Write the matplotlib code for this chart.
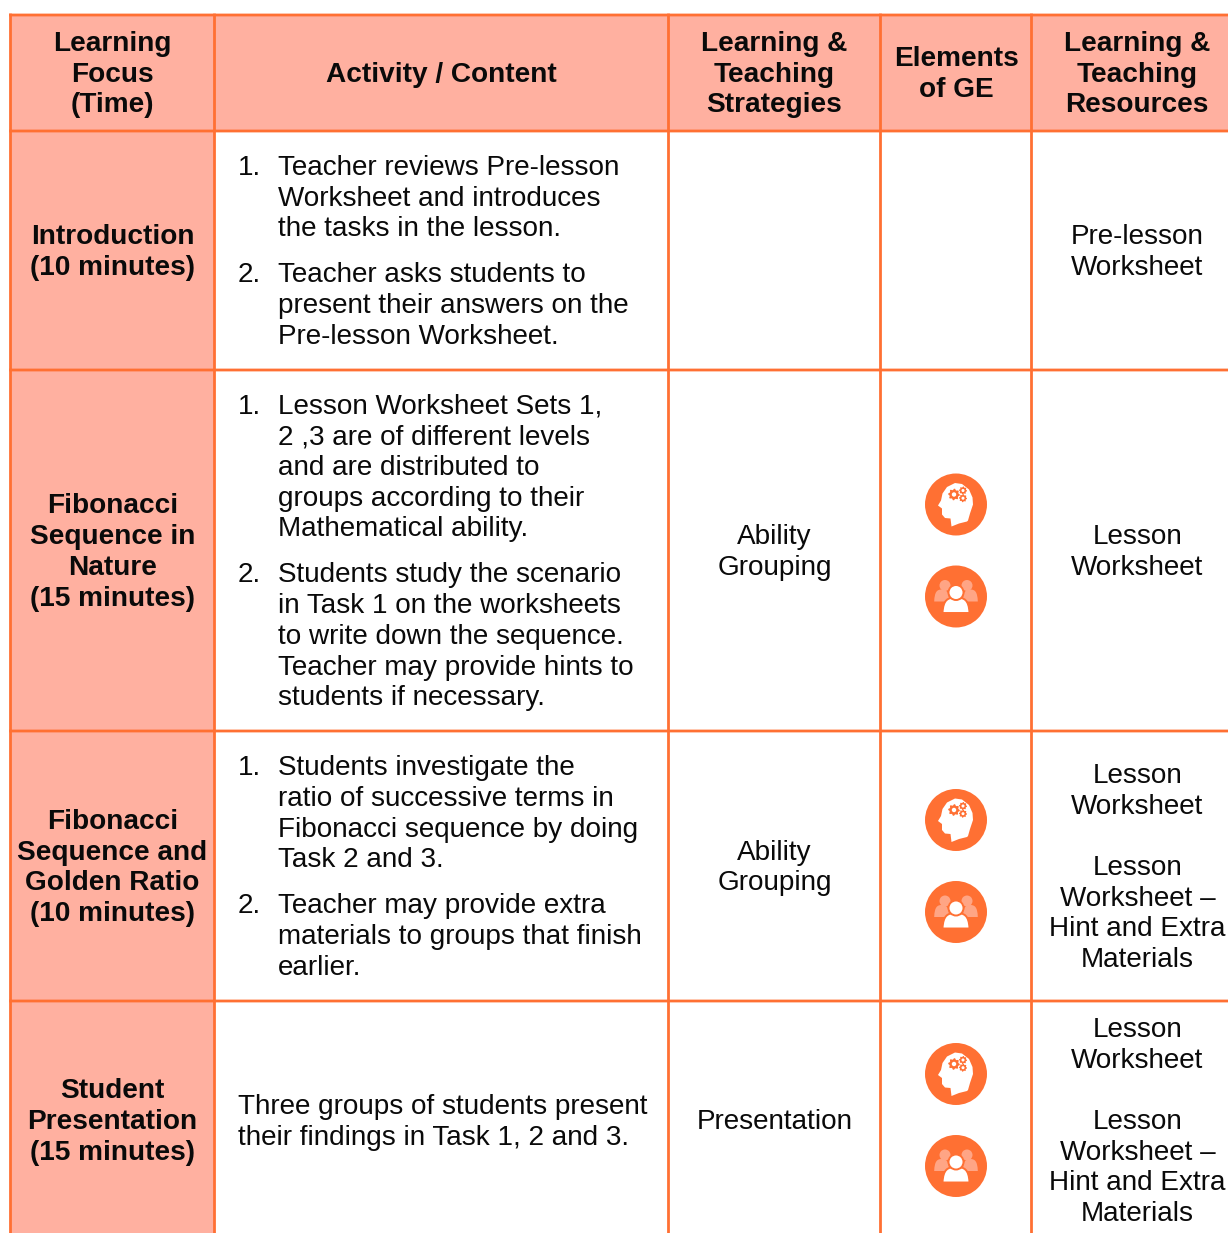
import numpy as np
import matplotlib
matplotlib.use('Agg')
import matplotlib.pyplot as plt
from matplotlib.patches import Circle, Polygon, Rectangle, PathPatch
from matplotlib.path import Path

plt.rcParams['font.family'] = ['Liberation Sans', 'DejaVu Sans']

headers = [['Learning', 'Focus', '(Time)'],
           ['Activity / Content'],
           ['Learning &', 'Teaching', 'Strategies'],
           ['Elements', 'of GE'],
           ['Learning &', 'Teaching', 'Resources']]

focus = [['Introduction', '(10 minutes)'],
         ['Fibonacci', 'Sequence in', 'Nature', '(15 minutes)'],
         ['Fibonacci', 'Sequence and', 'Golden Ratio', '(10 minutes)'],
         ['Student', 'Presentation', '(15 minutes)']]

activities = [
    [['Teacher reviews Pre-lesson', 'Worksheet and introduces', 'the tasks in the lesson.'],
     ['Teacher asks students to', 'present their answers on the', 'Pre-lesson Worksheet.']],
    [['Lesson Worksheet Sets 1,', '2 ,3 are of different levels', 'and are distributed to',
      'groups according to their', 'Mathematical ability.'],
     ['Students study the scenario', 'in Task 1 on the worksheets', 'to write down the sequence.',
      'Teacher may provide hints to', 'students if necessary.']],
    [['Students investigate the', 'ratio of successive terms in', 'Fibonacci sequence by doing', 'Task 2 and 3.'],
     ['Teacher may provide extra', 'materials to groups that finish', 'earlier.']],
]
activity_plain = ['Three groups of students present', 'their findings in Task 1, 2 and 3.']

strategies = [[], ['Ability', 'Grouping'], ['Ability', 'Grouping'], ['Presentation']]
has_icons = [False, True, True, True]
resources = [['Pre-lesson', 'Worksheet'],
             ['Lesson', 'Worksheet'],
             ['Lesson', 'Worksheet', '', 'Lesson', 'Worksheet \u2013', 'Hint and Extra', 'Materials'],
             ['Lesson', 'Worksheet', '', 'Lesson', 'Worksheet \u2013', 'Hint and Extra', 'Materials']]

col_x = [10.5, 214.5, 668.5, 880.5, 1031.5, 1240]
row_y = [15, 131, 370, 731, 1001, 1239]
ORANGE = '#ff7033'
PINK = '#ffb0a0'
LIGHT = '#ffa585'
FS = 20.05
FS_BOLD = 20.2
PITCH = 30.7
BASE = 9.5


def put_lines(ax, x, yc, lines, ha='center', weight='normal', pitch=PITCH):
    # yc is the middle of the block
    y0 = yc - pitch * (len(lines) - 1) / 2
    size = FS_BOLD if weight == 'bold' else FS
    for i, s in enumerate(lines):
        ax.text(x, y0 + i * pitch + BASE, s, ha=ha, va='baseline', fontsize=size,
                fontweight=weight, color='#0a0a0a')


def gear(ax, cx, cy, r):
    a = np.linspace(0, 2 * np.pi, 33)[:-1]
    rad = np.where(np.arange(32) % 4 < 2, r, r * 0.8)
    ax.add_patch(Polygon(np.c_[cx + rad * np.cos(a), cy + rad * np.sin(a)], fc=ORANGE, ec='none', zorder=5))
    ax.add_patch(Circle((cx, cy), r * 0.38, fc='white', ec='none', zorder=6))


def brain_icon(ax, cx, cy):
    ax.add_patch(Circle((cx, cy), 31, fc=ORANGE, ec='none', zorder=3))
    head = [(-1, -21.5), (6, -20.5), (13, -15), (16.5, -7), (17, 0), (14, 9), (12, 16), (11, 17),
            (3, 19), (-4.5, 22), (-5.5, 14), (-11, 13.5), (-14, 10), (-14, 4), (-18, 1), (-15, -4),
            (-13.5, -11), (-9, -17.5)]
    ax.add_patch(Polygon([(cx + a, cy + b) for a, b in head], fc='white', ec='none', zorder=4))
    gear(ax, cx - 2, cy - 10, 5.8)
    gear(ax, cx + 7, cy - 14, 4)
    gear(ax, cx + 7, cy - 6.3, 4)


def body(ax, cx, base, half, top, fc, ec, z):
    verts = [(cx - half, base), (cx - half * 0.95, top + 2), (cx - half * 0.6, top), (cx, top),
             (cx + half * 0.6, top), (cx + half * 0.95, top + 2), (cx + half, base), (cx - half, base)]
    codes = [Path.MOVETO, Path.CURVE4, Path.CURVE4, Path.CURVE4, Path.CURVE4, Path.CURVE4, Path.CURVE4, Path.CLOSEPOLY]
    ax.add_patch(PathPatch(Path(verts, codes), fc=fc, ec=ec, lw=1.4 if ec != 'none' else 0, zorder=z))


def people_icon(ax, cx, cy):
    ax.add_patch(Circle((cx, cy), 31, fc=ORANGE, ec='none', zorder=3))
    for dx in (-11, 11):
        ax.add_patch(Circle((cx + dx, cy - 11), 5.5, fc=LIGHT, ec='none', zorder=4))
        body(ax, cx + dx * 1.3, cy + 5, 7.5, cy - 7, LIGHT, 'none', 4)
    body(ax, cx, cy + 16.5, 13.5, cy + 1, 'white', ORANGE, 5)
    ax.add_patch(Circle((cx, cy - 4), 7.5, fc='white', ec=ORANGE, lw=1.4, zorder=6))


fig = plt.figure(figsize=(12.28, 12.33), dpi=100)
ax = fig.add_axes([0, 0, 1, 1])
ax.set_xlim(0, 1228)
ax.set_ylim(1233, 0)
ax.axis('off')

ax.add_patch(Rectangle((col_x[0], row_y[0]), col_x[5] - col_x[0], row_y[1] - row_y[0], fc=PINK, ec='none'))
ax.add_patch(Rectangle((col_x[0], row_y[1]), col_x[1] - col_x[0], row_y[5] - row_y[1], fc=PINK, ec='none'))
for x in col_x[:5]:
    ax.plot([x, x], [row_y[0], row_y[5]], color=ORANGE, lw=2.0, solid_capstyle='projecting', zorder=2, snap=False)
for y in row_y[:5]:
    ax.plot([col_x[0], col_x[5]], [y, y], color=ORANGE, lw=2.0, solid_capstyle='projecting', zorder=2, snap=False)

for i, lines in enumerate(headers):
    put_lines(ax, (col_x[i] + col_x[i + 1]) / 2 if i < 4 else 1137, 72, lines, weight='bold', pitch=30.4)

for r in range(4):
    yc = (row_y[r + 1] + row_y[r + 2]) / 2 - 0.5
    put_lines(ax, 112.5, yc, focus[r], weight='bold')
    put_lines(ax, 774.5, yc, strategies[r])
    put_lines(ax, 1137.5, yc, resources[r])
    if has_icons[r]:
        brain_icon(ax, 956, yc - 45.5)
        people_icon(ax, 956, yc + 46.5)

for r, paras in enumerate(activities):
    total = sum(len(p) for p in paras) - 1
    y = (row_y[r + 1] + row_y[r + 2]) / 2 - (total * PITCH + 15.3) / 2 - 0.5
    for n, para in enumerate(paras):
        ax.text(237.5, y + BASE, f'{n + 1}.', ha='left', va='baseline', fontsize=FS, color='#0a0a0a')
        for s in para:
            ax.text(277.5, y + BASE, s, ha='left', va='baseline', fontsize=FS, color='#0a0a0a')
            y += PITCH
        y += 15.3

put_lines(ax, 237.5, (row_y[4] + row_y[5]) / 2, activity_plain, ha='left')

fig.savefig('out.png', dpi=100)
